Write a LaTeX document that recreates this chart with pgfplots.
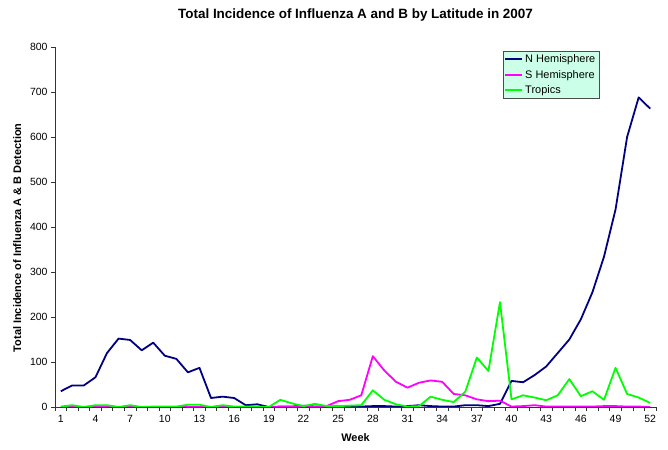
\documentclass[border=0pt]{standalone}
\usepackage{pgfplots}
\pgfplotsset{compat=1.18}
\usepackage{fontspec}
\setmainfont{Liberation Sans}
\definecolor{nh}{RGB}{0,0,128}
\definecolor{sh}{RGB}{255,0,255}
\definecolor{tr}{RGB}{0,255,0}
\definecolor{legfill}{RGB}{204,255,232}
\pgfplotstableread{
week N S T
1 35 0 1
2 48 0 4
3 48 0 0
4 66 1 4
5 120 1 4
6 152 0 0
7 149 0 4
8 126 0 0
9 143 0 1
10 114 0 1
11 107 0 1
12 77 0 5
13 87 0 5
14 20 0 0
15 23 1 4
16 20 0 1
17 4 0 1
18 6 0 1
19 0 0 0
20 1 0 16
21 1 0 8
22 3 0 2
23 1 0 7
24 1 2 2
25 1 13 2
26 1 16 3
27 1 26 4
28 2 113 37
29 2 81 16
30 1 56 6
31 2 43 1
32 4 54 2
33 2 59 23
34 1 56 16
35 1 29 11
36 4 26 34
37 4 17 110
38 2 13 80
39 7 14 233
40 58 1 17
41 55 2 26
42 71 4 21
43 90 1 15
44 120 1 26
45 150 1 62
46 195 1 24
47 255 1 35
48 334 2 16
49 439 2 87
50 600 1 29
51 688 1 21
52 663 0 9
}\flu
\begin{document}
\begin{tikzpicture}
\useasboundingbox (0,0) rectangle (668bp,450bp);
\begin{axis}[
  at={(55bp,43bp)}, anchor=south west,
  scale only axis, width=601bp, height=360bp,
  xmin=0.5, xmax=52.5, ymin=0, ymax=800,
  axis x line*=bottom, axis y line*=left,
  axis line style={black!80, line width=0.7pt},
  xtick={1,4,...,52},
  minor xtick={0.5,1.5,...,52.5},
  ytick={0,100,...,800},
  tick align=outside,
  major tick length=4bp, minor tick length=4bp,
  major x tick style={draw=none},
  tick style={black!80, line width=0.7pt},
  tick label style={font=\fontsize{10.5}{12}\selectfont},
  xticklabel style={yshift=-1bp},
  /pgf/number format/assume math mode=true,
  xlabel={\textbf{Week}},
  ylabel={\textbf{Total Incidence of Influenza A \& B Detection}},
  label style={font=\fontsize{11}{13}\selectfont},
  xlabel style={yshift=-4bp},
  ylabel style={at={(ticklabel cs:0.47)}, yshift=2bp},
  title={\textbf{Total Incidence of Influenza A and B by Latitude in 2007}},
  title style={font=\fontsize{13.5}{16}\selectfont, at={(0.5,1)}, yshift=16bp},
  legend style={at={(0.745,0.989)}, anchor=north west, fill=legfill, draw=black!70,
    font=\fontsize{11}{13}\selectfont, row sep=2pt, inner sep=1.5pt},
  legend cell align=left,
  legend image post style={line width=1.8pt},
  every axis plot/.append style={line width=1.8pt, line join=round},
]
\addplot[nh] table[x=week,y=N]{\flu};
\addplot[sh] table[x=week,y=S]{\flu};
\addplot[tr] table[x=week,y=T]{\flu};
\legend{N Hemisphere,S Hemisphere,Tropics}
\end{axis}
\end{tikzpicture}
\end{document}
